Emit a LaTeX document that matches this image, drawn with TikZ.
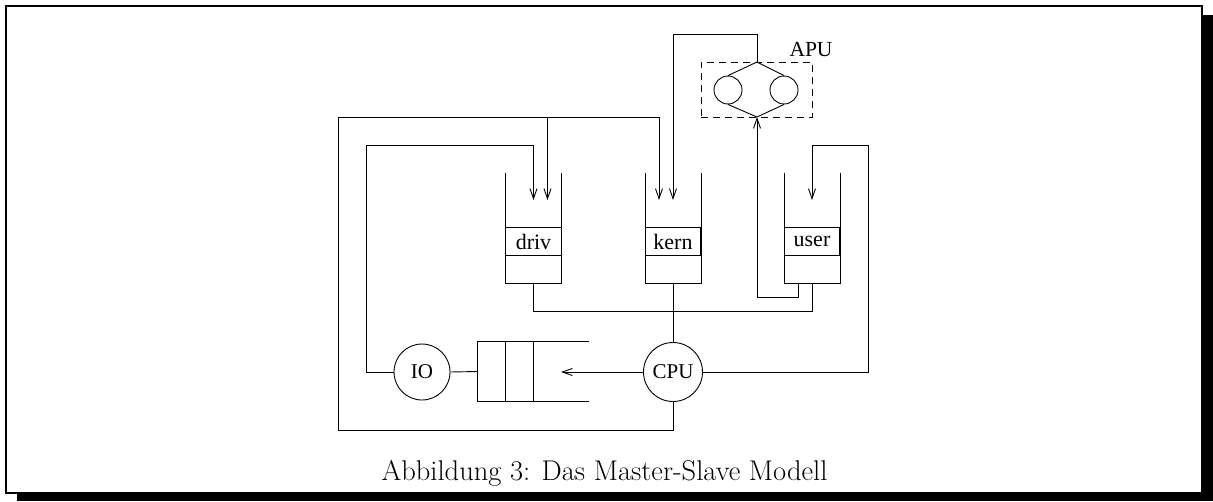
\documentclass[tikz,border=0pt]{standalone}
\usepackage{fontspec}
\newfontfamily\timesfont{Liberation Serif}
\usetikzlibrary{arrows.meta}
\tikzset{
  ln/.style={line width=0.9pt},
  arr/.style={ln,-{Straight Barb[length=10pt,width=7pt]}},
  qbox/.style={inner sep=0pt,minimum width=55.5pt,minimum height=110pt},
  qcell/.style={draw,ln,inner sep=0pt,minimum width=55.5pt,minimum height=27.5pt,font=\timesfont\fontsize{22}{25}\selectfont},
  station/.style={draw,ln,circle,inner sep=0pt,font=\timesfont\fontsize{21}{24}\selectfont},
  apucirc/.style={draw,ln,circle,inner sep=0pt,minimum size=28pt},
}
\begin{document}
\begin{tikzpicture}[x=1pt,y=-1pt]
\useasboundingbox (0,0) rectangle (1213,501);
% frame with shadow
\fill (1203,15) rectangle (1213,501);
\fill (17,494) rectangle (1213,501);
\draw[line width=2pt] (6,6) rectangle (1202,493);

% queues
\node[qbox] (drivq) at (533.5,228) {};
\node[qbox] (kernq) at (673,228) {};
\node[qbox] (userq) at (812,228) {};
\foreach \q in {drivq,kernq,userq}{
  \draw[ln] (\q.north west) -- (\q.south west) -- (\q.south east) -- (\q.north east);
}
\node[qcell] (driv) at (533.5,241.5) {driv};
\node[qcell] (kern) at (673,241.5) {kern};
\node[qcell] (user) at (812,241.5) {user};

% stations
\node[station,minimum size=59pt] (cpu) at (673,372) {CPU};
\node[station,minimum size=56pt] (io) at (422,372) {IO};

% waiting queue
\node[inner sep=0pt,minimum width=111.5pt,minimum height=59.5pt] (wq) at (533.25,371.5) {};
\draw[ln] (wq.north east) -- (wq.north west) -- (wq.south west) -- (wq.south east);
\draw[ln] (505.7,342) -- (505.7,401);
\draw[ln] (533.6,342) -- (533.6,401);

% APU
\node[draw,ln,dash pattern=on 7pt off 5pt,inner sep=0pt,minimum width=111pt,minimum height=55pt] (apu) at (756.5,89.5) {};
\node[apucirc] (apu1) at (728,90) {};
\node[apucirc] (apu2) at (784,90) {};
\coordinate (apuT) at (757,62);
\coordinate (apuB) at (757,117);
\draw[ln] (apu1.north) -- (apuT) -- (apu2.north);
\draw[ln] (apu1.south) -- (apuB) -- (apu2.south);
\node[anchor=base,inner sep=0pt,font=\timesfont\fontsize{21.5}{24}\selectfont] (apul) at (811,56) {APU};

% arrow end points inside the queues
\coordinate (drivA) at (533.5,200);
\coordinate (drivB) at (547.5,200);
\coordinate (kernA) at (659,200);
\coordinate (kernB) at (673,200);
\coordinate (userA) at (812,200);
\coordinate (userO) at (798,283);

% connectors
\draw[arr] (cpu.south) -- (673,430) -| (338,117) -| (kernA);
\draw[arr] (547.5,117) -- (drivB);
\draw[arr] (io.west) -| (366,145) -| (drivA);
\draw[arr] (apuT) -- (757,34) -| (kernB);
\draw[arr] (cpu.east) -| (868,145) -| (userA);
\draw[arr] (cpu.west) -- (561,372);
\draw[ln] (io.east) -- (wq.west);
\draw[ln] (kernq.south) -- (cpu.north);
\draw[ln] (drivq.south) -- (533.5,311) -| (userq.south);
\draw[arr] (userO) -- (798,297) -| (apuB);

% caption
\node[anchor=base,inner sep=0pt,font=\fontsize{28.5}{32}\selectfont] (cap) at (604.5,480) {Abbildung 3: Das Master-Slave Modell};
\end{tikzpicture}
\end{document}
